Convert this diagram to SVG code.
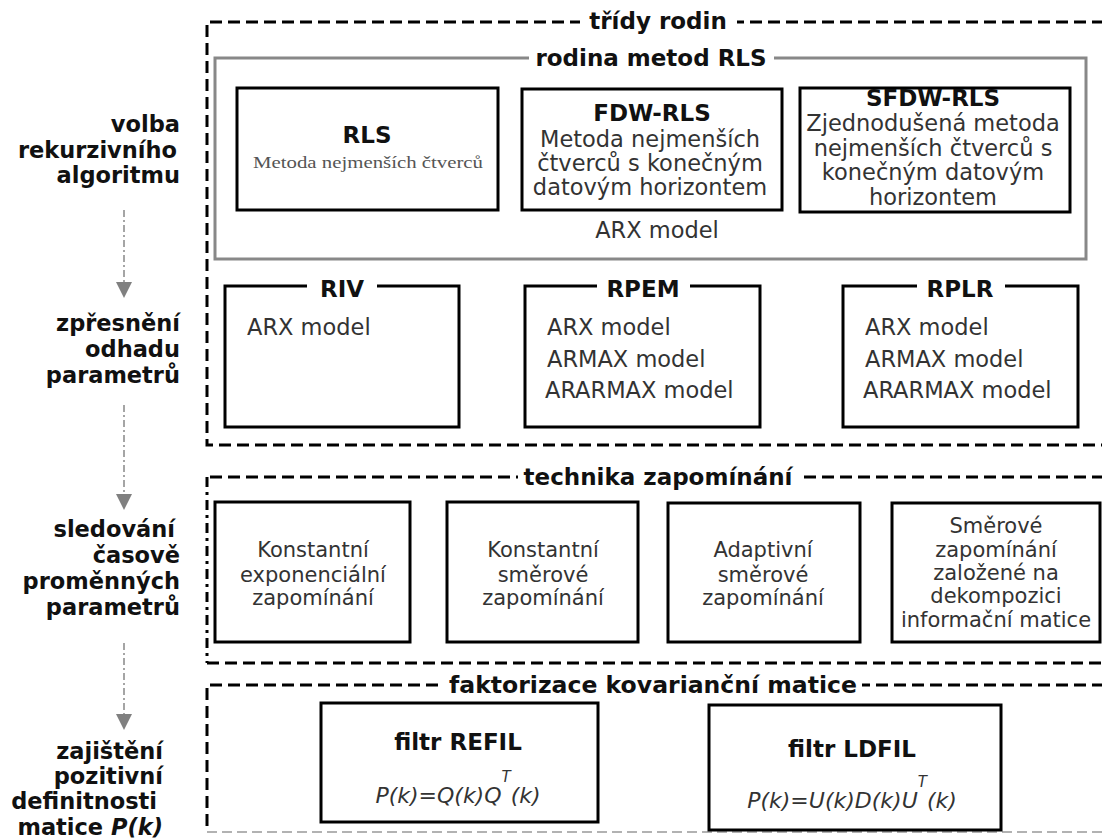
<svg xmlns="http://www.w3.org/2000/svg" width="1102" height="839" viewBox="0 0 1102 839">
<style>
.title{font-family:"DejaVu Sans",Verdana,sans-serif;font-weight:bold;font-size:23px;fill:#111;text-anchor:middle}
.lbl{font-family:"DejaVu Sans",Verdana,sans-serif;font-weight:bold;font-size:22.5px;fill:#111;text-anchor:end}
.body{font-family:"DejaVu Sans",Verdana,sans-serif;font-size:22.5px;fill:#333}
.mid{text-anchor:middle}
.tb{font-family:"DejaVu Sans",Verdana,sans-serif;font-size:21px;fill:#333;text-anchor:middle}
.box{fill:none;stroke:#000;stroke-width:3}
.dash{fill:none;stroke:#000;stroke-width:3;stroke-dasharray:12 6}
.dashdot{fill:none;stroke:#000;stroke-width:3;stroke-dasharray:10 5 3 5}
.gap{fill:#fff}
.flow{fill:none;stroke:#888;stroke-width:1.5;stroke-dasharray:7 3 2 3}
.head{fill:#808080}
.f{font-family:"DejaVu Sans",Verdana,sans-serif;font-style:italic;font-size:22px;fill:#333;text-anchor:middle}
</style>

<g id="labels">
  <text class="lbl" x="180" y="132">volba</text>
  <text class="lbl" x="177" y="158">rekurzivního</text>
  <text class="lbl" x="180" y="183">algoritmu</text>
  <text class="lbl" x="180" y="331">zpřesnění</text>
  <text class="lbl" x="180" y="357">odhadu</text>
  <text class="lbl" x="180" y="383">parametrů</text>
  <text class="lbl" x="175" y="537">sledování</text>
  <text class="lbl" x="180" y="563">časově</text>
  <text class="lbl" x="180" y="589">proměnných</text>
  <text class="lbl" x="180" y="615">parametrů</text>
  <text class="lbl" x="163" y="759">zajištění</text>
  <text class="lbl" x="163" y="784">pozitivní</text>
  <text class="lbl" x="157" y="809">definitnosti</text>
  <text class="lbl" x="163" y="835">matice <tspan font-style="italic">P(k)</tspan></text>
</g>

<g id="connectors">
  <line class="flow" x1="124" y1="210" x2="124" y2="282"/>
  <polygon class="head" points="116,282 132,282 124,298"/>
  <line class="flow" x1="124" y1="405" x2="124" y2="494"/>
  <polygon class="head" points="116,494 132,494 124,510"/>
  <line class="flow" x1="124" y1="643" x2="124" y2="714"/>
  <polygon class="head" points="116,714 132,714 124,730"/>
</g>

<g id="tridy-rodin">
  <path class="dash" d="M1104 22 H207 V445 H1104"/>
  <rect class="gap" x="580" y="10" width="157" height="26"/>
  <text class="title" x="658" y="29">třídy rodin</text>
</g>

<g id="rodina-rls">
  <rect x="215" y="58" width="871" height="201" fill="none" stroke="#888" stroke-width="3"/>
  <rect class="gap" x="529" y="46" width="245" height="26"/>
  <text class="title" x="651" y="66">rodina metod RLS</text>
  <text class="body mid" x="657" y="238">ARX model</text>
</g>

<g id="rls">
  <rect class="box" x="237" y="88" width="261" height="122"/>
  <text class="title" x="367" y="143">RLS</text>
  <text x="368" y="168" font-family="'Liberation Serif','Times New Roman',serif" font-size="17" fill="#555" text-anchor="middle" textLength="230" lengthAdjust="spacingAndGlyphs">Metoda nejmenších čtverců</text>
</g>

<g id="fdw-rls">
  <rect class="box" x="522" y="89" width="260" height="121"/>
  <text class="title" x="652" y="121">FDW-RLS</text>
  <text class="body mid" x="650" y="147" font-size="22">Metoda nejmenších</text>
  <text class="body mid" x="650" y="171" font-size="22">čtverců s konečným</text>
  <text class="body mid" x="650" y="195" font-size="22">datovým horizontem</text>
</g>

<g id="sfdw-rls">
  <rect class="box" x="800" y="88" width="270" height="124"/>
  <text class="title" x="933" y="106">SFDW-RLS</text>
  <text class="body mid" x="933" y="131" font-size="21.5">Zjednodušená metoda</text>
  <text class="body mid" x="933" y="155.5" font-size="21.5">nejmenších čtverců s</text>
  <text class="body mid" x="933" y="180" font-size="21.5">konečným datovým</text>
  <text class="body mid" x="933" y="204.5" font-size="21.5">horizontem</text>
</g>

<g id="riv">
  <path class="box" d="M307 286 H225 V427 H459 V286 H377"/>
  <text class="title" x="342" y="297">RIV</text>
  <text class="body" x="247" y="335">ARX model</text>
</g>

<g id="rpem">
  <path class="box" d="M597 286 H525 V427 H760 V286 H690"/>
  <text class="title" x="643" y="297">RPEM</text>
  <text class="body" x="547" y="335">ARX model</text>
  <text class="body" x="547" y="367">ARMAX model</text>
  <text class="body" x="545" y="398">ARARMAX model</text>
</g>

<g id="rplr">
  <path class="box" d="M917 286 H843 V427 H1078 V286 H1005"/>
  <text class="title" x="960" y="297">RPLR</text>
  <text class="body" x="865" y="335">ARX model</text>
  <text class="body" x="865" y="367">ARMAX model</text>
  <text class="body" x="863" y="398">ARARMAX model</text>
</g>

<g id="technika-zapominani">
  <path class="dash" d="M1104 477 H207"/>
  <path class="dashdot" d="M207 477 V663"/>
  <path class="dash" d="M207 663 H1104"/>
  <rect class="gap" x="518" y="465" width="281" height="26"/>
  <text class="title" x="658" y="485">technika zapomínání</text>
</g>

<g id="konst-exp">
  <rect class="box" x="215" y="502" width="195" height="140"/>
  <text class="tb" x="313" y="557">Konstantní</text>
  <text class="tb" x="313" y="582">exponenciální</text>
  <text class="tb" x="313" y="605">zapomínání</text>
</g>

<g id="konst-smer">
  <rect class="box" x="447" y="502" width="191" height="140"/>
  <text class="tb" x="543" y="557">Konstantní</text>
  <text class="tb" x="543" y="582">směrové</text>
  <text class="tb" x="543" y="605">zapomínání</text>
</g>

<g id="adapt-smer">
  <rect class="box" x="668" y="503" width="192" height="139"/>
  <text class="tb" x="763" y="557">Adaptivní</text>
  <text class="tb" x="763" y="582">směrové</text>
  <text class="tb" x="763" y="605">zapomínání</text>
</g>

<g id="smer-dekomp">
  <rect class="box" x="892" y="503" width="208" height="139"/>
  <text class="tb" x="996" y="533">Směrové</text>
  <text class="tb" x="996" y="557">zapomínání</text>
  <text class="tb" x="996" y="580">založené na</text>
  <text class="tb" x="996" y="603">dekompozici</text>
  <text class="tb" x="996" y="627">informační matice</text>
</g>

<g id="faktorizace">
  <path class="dash" d="M1104 685 H207 V832"/>
  <path d="M207 832 H1104" fill="none" stroke="#999" stroke-width="1.5" stroke-dasharray="10 5"/>
  <rect class="gap" x="444" y="673" width="418" height="26"/>
  <text class="title" x="653" y="693" font-size="21" textLength="408" lengthAdjust="spacingAndGlyphs">faktorizace kovarianční matice</text>
</g>

<g id="refil">
  <rect class="box" x="321" y="703" width="277" height="119"/>
  <text class="title" x="458" y="750" font-size="22">filtr REFIL</text>
  <text class="f" x="458" y="803">P(k)=Q(k)Q<tspan font-size="15" dy="-21">T</tspan><tspan dy="21">(k)</tspan></text>
</g>

<g id="ldfil">
  <rect class="box" x="709" y="705" width="292" height="125" stroke-width="3.5"/>
  <text class="title" x="852" y="757" font-size="22">filtr LDFIL</text>
  <text class="f" x="852" y="808">P(k)=U(k)D(k)U<tspan font-size="15" dy="-21">T</tspan><tspan dy="21">(k)</tspan></text>
</g>
</svg>
